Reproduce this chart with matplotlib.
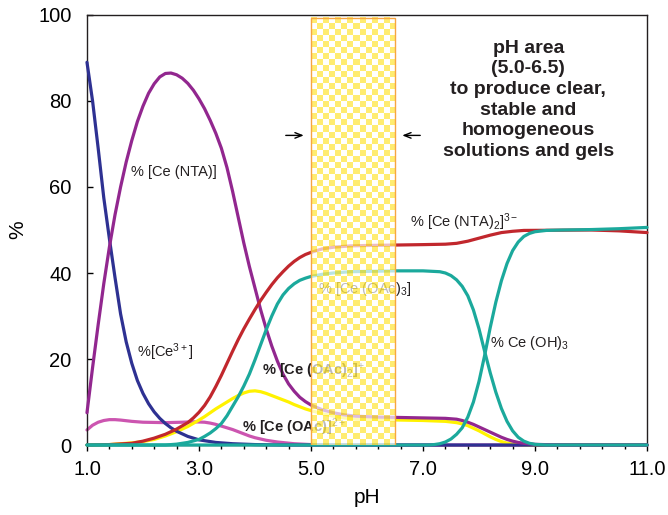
import numpy as np
import matplotlib
matplotlib.use("Agg")
import matplotlib.pyplot as plt
from matplotlib.patches import Rectangle

plt.rcParams['font.family'] = ['Liberation Sans', 'DejaVu Sans']
plt.rcParams['mathtext.fontset'] = 'custom'
plt.rcParams['mathtext.rm'] = 'Liberation Sans'
plt.rcParams['mathtext.it'] = 'Liberation Sans:italic'
plt.rcParams['mathtext.bf'] = 'Liberation Sans:bold'

# Ce3+
ph_ce = [1.0, 1.1, 1.2, 1.3, 1.4, 1.5, 1.6, 1.7, 1.8, 1.9, 2.0, 2.1, 2.2, 2.3, 2.4, 2.5, 2.6, 2.8,
         3.0, 3.3, 3.6, 4.0, 4.5, 11.0]
pct_ce = [89, 80, 69, 57.5, 48, 39, 30.5, 24, 19, 15, 12, 9.6, 7.7, 6.2, 5, 4, 3.2, 2.0,
          1.2, 0.6, 0.3, 0.1, 0, 0]

# [Ce(NTA)]
ph_nta = [1.0, 1.1, 1.2, 1.3, 1.4, 1.5, 1.6, 1.7, 1.8, 1.9, 2.0, 2.1, 2.2, 2.3, 2.4, 2.5, 2.6, 2.7,
          2.8, 2.9, 3.0, 3.1, 3.2, 3.3, 3.4, 3.5, 3.6, 3.7, 3.8, 3.9, 4.0, 4.1, 4.2, 4.3, 4.4, 4.5,
          4.6, 4.7, 4.8, 4.9, 5.0, 5.2, 5.4, 5.6, 5.8, 6.2, 6.6, 7.0, 7.4, 7.6, 7.7, 7.8, 7.9, 8.0,
          8.1, 8.2, 8.3, 8.4, 8.5, 8.6, 8.7, 8.8, 9.0, 9.3, 9.6, 11.0]
pct_nta = [7.5, 18, 28, 37.5, 46, 53.5, 60, 65.8, 70.8, 75.2, 78.8, 81.8, 84, 85.6, 86.4, 86.5, 86.1, 85.3,
           84.1, 82.5, 80.5, 78.2, 75.5, 72.5, 69, 64.5, 59, 53, 47, 41.5, 36.5, 31.5, 27, 23, 19.5, 16.5,
           14.2, 12.5, 11.1, 10.1, 9.3, 8.2, 7.5, 7.0, 6.7, 6.5, 6.4, 6.3, 6.2, 6.0, 5.7, 5.3, 4.8, 4.2,
           3.6, 3.0, 2.4, 1.8, 1.3, 0.9, 0.6, 0.4, 0.15, 0.05, 0, 0]

# [Ce(NTA)2]3-
ph_nta2 = [1.0, 1.4, 1.8, 2.0, 2.2, 2.4, 2.6, 2.8, 2.9, 3.0, 3.1, 3.2, 3.3, 3.4, 3.5, 3.6, 3.7, 3.8,
           3.9, 4.0, 4.1, 4.2, 4.3, 4.4, 4.5, 4.6, 4.7, 4.8, 4.9, 5.0, 5.2, 5.4, 5.7, 6.0, 6.5, 7.0,
           7.4, 7.6, 7.8, 8.0, 8.2, 8.4, 8.6, 8.8, 10.0, 10.5, 11.0]
pct_nta2 = [0, 0.1, 0.4, 0.9, 1.6, 2.5, 3.7, 5.2, 6.3, 7.6, 9.2, 11.2, 13.6, 16.2, 19, 21.8, 24.5, 27,
            29.3, 31.5, 33.6, 35.5, 37.3, 38.9, 40.3, 41.6, 42.7, 43.6, 44.3, 44.8, 45.6, 46.0, 46.3, 46.4, 46.5, 46.6,
            46.7, 46.9, 47.4, 48.1, 48.8, 49.4, 49.7, 49.9, 50, 49.8, 49.4]

# [Ce(OAc)]2+
ph_oac1 = [1.0, 1.1, 1.2, 1.3, 1.4, 1.5, 1.6, 1.8, 2.0, 2.4, 2.7, 2.9, 3.1, 3.2, 3.3, 3.4, 3.5, 3.6,
           3.7, 3.8, 3.9, 4.0, 4.2, 4.4, 4.7, 5.0, 5.5, 11.0]
pct_oac1 = [3.5, 4.6, 5.3, 5.7, 5.9, 5.9, 5.8, 5.5, 5.3, 5.2, 5.3, 5.4, 5.3, 5.1, 4.8, 4.4, 4.0, 3.6,
            3.1, 2.6, 2.1, 1.7, 1.1, 0.7, 0.3, 0.1, 0, 0]

# [Ce(OAc)2]+
ph_oac2 = [1.0, 1.4, 1.8, 2.0, 2.2, 2.4, 2.6, 2.8, 3.0, 3.1, 3.2, 3.3, 3.4, 3.5, 3.6, 3.7, 3.8, 3.9,
           4.0, 4.1, 4.2, 4.3, 4.4, 4.5, 4.6, 4.7, 4.8, 4.9, 5.0, 5.2, 5.4, 5.6, 5.8, 6.2, 6.6, 7.0,
           7.4, 7.6, 7.7, 7.8, 7.9, 8.0, 8.1, 8.2, 8.3, 8.4, 8.5, 8.6, 8.8, 9.0, 11.0]
pct_oac2 = [0, 0.1, 0.5, 0.8, 1.3, 2.1, 3.1, 4.3, 5.8, 6.6, 7.5, 8.4, 9.2, 10, 10.8, 11.5, 12.1, 12.5,
            12.6, 12.4, 12, 11.5, 11, 10.5, 10, 9.4, 8.9, 8.4, 8.0, 7.3, 6.7, 6.3, 6.0, 5.9, 5.8, 5.7,
            5.5, 5.2, 4.9, 4.5, 3.9, 3.3, 2.6, 1.9, 1.3, 0.8, 0.45, 0.2, 0.05, 0, 0]

# [Ce(OAc)3]
ph_oac3 = [1.0, 2.4, 2.6, 2.8, 3.0, 3.1, 3.2, 3.3, 3.4, 3.5, 3.6, 3.7, 3.8, 3.9, 4.0, 4.1, 4.2, 4.3,
           4.4, 4.5, 4.6, 4.7, 4.8, 4.9, 5.0, 5.2, 5.4, 5.7, 6.5, 7.0, 7.3, 7.4, 7.5, 7.6, 7.7, 7.8,
           7.9, 8.0, 8.1, 8.2, 8.3, 8.4, 8.5, 8.6, 8.7, 8.8, 8.9, 9.0, 9.2, 11.0]
pct_oac3 = [0, 0, 0.2, 0.6, 1.3, 2.0, 2.8, 3.8, 5.0, 6.8, 9.0, 11.2, 13.7, 16.5, 19.8, 23.3, 26.8, 30.0,
            32.8, 34.9, 36.4, 37.5, 38.3, 38.8, 39.2, 39.7, 40.0, 40.3, 40.5, 40.5, 40.3, 40.0, 39.4, 38.4, 36.9, 34.7,
            31.4, 27, 21.8, 16.8, 12.3, 8.5, 5.5, 3.3, 1.8, 0.9, 0.4, 0.15, 0, 0]

# Ce(OH)3
ph_oh = [1.0, 7.1, 7.2, 7.3, 7.4, 7.5, 7.6, 7.7, 7.8, 7.9, 8.0, 8.1, 8.2, 8.3, 8.4, 8.5, 8.6, 8.7,
         8.8, 8.9, 9.0, 9.2, 9.5, 10.0, 10.5, 11.0]
pct_oh = [0, 0, 0.1, 0.3, 0.7, 1.4, 2.5, 4.0, 6.5, 10, 14.8, 20.8, 27.3, 33.2, 38.2, 42.2, 45.2, 47.2,
          48.5, 49.2, 49.6, 49.9, 50, 50.1, 50.3, 50.6]

xticks = [1.0, 3.0, 5.0, 7.0, 9.0, 11.0]
yticks = [0, 20, 40, 60, 80, 100]
good_ph = (5.0, 6.5)

fig = plt.figure(figsize=(6.68, 5.15), dpi=100)
ax = fig.add_axes([0.1302, 0.1359, 0.8384, 0.835])

lw = 2.3
kw = dict(lw=lw, clip_on=False, solid_joinstyle='round', solid_capstyle='round')
ax.plot(ph_ce, pct_ce, color='#2e3192', zorder=3, **kw)
ax.plot(ph_oac1, pct_oac1, color='#cc55b0', zorder=2, **kw)
ax.plot(ph_oac2, pct_oac2, color='#fff200', zorder=2, **kw)
ax.plot(ph_nta, pct_nta, color='#92278f', zorder=3, **kw)
ax.plot(ph_nta2, pct_nta2, color='#c1272d', zorder=3, **kw)
ax.plot(ph_oac3, pct_oac3, color='#1ba99c', zorder=3, **kw)
ax.plot(ph_oh, pct_oh, color='#1ba99c', zorder=3, **kw)

# checkered band for the good pH range
ii, jj = np.indices((71, 14))
chk = np.zeros((71, 14, 4))
chk[(ii + jj) % 2 == 0] = [1.0, 0.91, 0.30, 0.8]
chk[(ii + jj) % 2 == 1] = [1.0, 1.0, 1.0, 0.7]
ax.imshow(chk, extent=(good_ph[0], good_ph[1], 0, 99.3), aspect='auto',
          interpolation='nearest', zorder=5)
ax.add_patch(Rectangle((good_ph[0], 0), good_ph[1] - good_ph[0], 99.3, fill=False,
                       edgecolor='#f7a541', lw=1.0, zorder=6))

ax.annotate('', xy=(4.92, 72), xytext=(4.5, 72),
            arrowprops=dict(arrowstyle='->,head_length=0.5,head_width=0.2', color='black', lw=1.0))
ax.annotate('', xy=(6.58, 72), xytext=(7.0, 72),
            arrowprops=dict(arrowstyle='->,head_length=0.5,head_width=0.2', color='black', lw=1.0))

txt = '#231f20'
ax.text(8.88, 80.3, 'pH area\n(5.0-6.5)\nto produce clear,\nstable and\nhomogeneous\nsolutions and gels',
        ha='center', va='center', fontsize=14, fontweight='bold', color=txt, linespacing=1.28)

fs = 10.5
ax.text(1.78, 63.5, '% [Ce (NTA)]', fontsize=fs, color=txt, va='center')
ax.text(1.9, 21.5, '%[Ce$^{3+}$]', fontsize=fs, color=txt, va='center')
ax.text(6.77, 51.8, '% [Ce (NTA)$_2$]$^{3-}$', fontsize=fs, color=txt, va='center')
ax.text(5.12, 36.2, '% [Ce (OAc)$_3$]', fontsize=fs, color=txt, va='center', zorder=4)
ax.text(4.12, 17.0, '% [Ce (OAc)$_2$]$^{+}$', fontsize=fs, color=txt, va='center',
        fontweight='bold', zorder=4)
ax.text(3.76, 4.2, '% [Ce (OAc)]$^{2+}$', fontsize=fs, color=txt, va='center',
        fontweight='bold', zorder=4)
ax.text(8.2, 23.8, '% Ce (OH)$_3$', fontsize=fs, color=txt, va='center')

ax.set_xlim(1.0, 11.0)
ax.set_ylim(0, 100)
ax.set_xticks(xticks)
ax.set_xticklabels(['%.1f' % v for v in xticks])
ax.set_xticks(np.arange(1.0, 11.01, 0.4), minor=True)
ax.set_yticks(yticks)
ax.tick_params(axis='x', which='major', direction='out', length=4.5, width=1, pad=6, labelsize=14.5)
ax.tick_params(axis='x', which='minor', direction='out', length=3, width=1)
ax.tick_params(axis='y', which='major', direction='in', length=4.5, width=1, pad=11, labelsize=14.5)
for s in ax.spines.values():
    s.set_linewidth(1.0)
    s.set_color('#231f20')
ax.set_xlabel('pH', fontsize=15, labelpad=7)
ax.set_ylabel('%', fontsize=15, labelpad=8)

fig.savefig('out.png', dpi=100)
